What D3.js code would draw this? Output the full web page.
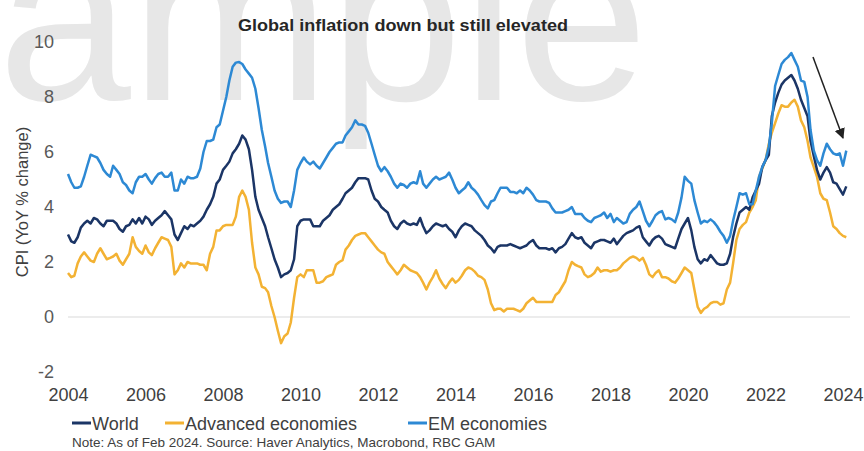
<!DOCTYPE html>
<html>
<head>
<meta charset="utf-8">
<script src="https://cdn.jsdelivr.net/npm/d3@7"></script>
<style>
  body { margin: 0; background: #fff; }
  text { font-family: "Liberation Sans", Arial, sans-serif; }
</style>
</head>
<body>
<svg id="chart" width="864" height="451"></svg>
<script>
// Monthly CPI YoY %, Jan 2004 .. Feb 2024
const startYear = 2004;

const world = [
  3.0, 2.75, 2.7, 2.9, 3.25, 3.4, 3.5, 3.4, 3.6, 3.55, 3.4, 3.3,
  3.5, 3.5, 3.5, 3.4, 3.2, 3.1, 3.3, 3.35, 3.55, 3.4, 3.6, 3.4,
  3.65, 3.55, 3.35, 3.5, 3.6, 3.7, 3.85, 3.7, 3.55, 3.0, 2.8, 3.05,
  3.3, 3.2, 3.35, 3.3, 3.4, 3.5, 3.65, 3.9, 4.1, 4.37, 4.85, 5.0,
  5.35, 5.5, 5.65, 5.95, 6.1, 6.3, 6.6, 6.45, 6.1, 5.35, 4.37, 3.9,
  3.6, 3.3, 2.9, 2.5, 2.1, 1.8, 1.45, 1.55, 1.6, 1.7, 2.1, 3.3,
  3.5, 3.55, 3.55, 3.55, 3.3, 3.3, 3.3, 3.5, 3.6, 3.7, 3.9, 4.0,
  4.1, 4.3, 4.5, 4.6, 4.7, 4.9, 5.05, 5.05, 5.05, 5.0, 4.6, 4.3,
  4.2, 4.0, 3.9, 3.8, 3.5, 3.3, 3.2, 3.4, 3.5, 3.4, 3.35, 3.4,
  3.35, 3.6, 3.3, 3.05, 3.15, 3.3, 3.4, 3.35, 3.3, 3.35, 3.2, 3.1,
  2.9, 3.15, 3.3, 3.4, 3.35, 3.3, 3.15, 3.05, 2.95, 2.8, 2.6, 2.5,
  2.35, 2.55, 2.6, 2.6, 2.6, 2.65, 2.6, 2.55, 2.5, 2.55, 2.6, 2.72,
  2.8, 2.6, 2.5, 2.5, 2.5, 2.45, 2.5, 2.35, 2.5, 2.55, 2.65, 2.85,
  3.05, 2.9, 2.85, 2.9, 2.7, 2.6, 2.5, 2.7, 2.75, 2.8, 2.8, 2.75,
  2.7, 2.85, 2.65, 2.8, 2.95, 3.05, 3.1, 3.15, 3.25, 3.3, 2.9, 2.75,
  2.6, 2.8, 2.9, 2.95, 2.85, 2.65, 2.6, 2.55, 2.5, 2.85, 3.2, 3.4,
  3.6, 3.15, 2.55, 2.1, 1.95, 2.1, 2.05, 2.25, 2.1, 1.95, 1.9, 1.9,
  1.95, 2.3, 2.9, 3.4, 3.8, 3.9, 4.0, 3.9, 4.35, 4.6, 4.85, 5.45,
  5.7, 5.9, 7.3, 7.8, 8.15, 8.45, 8.6, 8.7, 8.8, 8.6, 8.3, 7.9,
  7.6, 7.3, 6.4, 5.85, 5.35, 5.0, 5.25, 5.45, 5.25, 4.9, 4.85, 4.65,
  4.45, 4.75
];

const advanced = [
  1.6, 1.45, 1.5, 1.95, 2.2, 2.35, 2.2, 2.05, 2.0, 2.3, 2.5, 2.3,
  2.1, 2.15, 2.2, 2.3, 2.05, 1.9, 2.1, 2.3, 2.9, 2.55, 2.4, 2.3,
  2.6, 2.35, 2.25, 2.5, 2.7, 2.9, 2.85, 2.8, 2.55, 1.55, 1.7, 1.95,
  1.8, 2.0, 1.95, 1.95, 1.95, 1.9, 1.9, 1.7, 2.3, 2.55, 3.15, 3.15,
  3.3, 3.35, 3.35, 3.35, 3.65, 4.37, 4.6, 4.37, 3.9, 2.7, 1.8, 1.55,
  1.1, 1.05, 0.9, 0.4, 0.0, -0.5, -0.95, -0.7, -0.6, -0.2, 0.7, 1.45,
  1.55, 1.45, 1.7, 1.7, 1.7, 1.25, 1.25, 1.3, 1.45, 1.5, 1.55, 1.9,
  2.0, 2.07, 2.45, 2.6, 2.8, 2.95, 3.0, 3.05, 3.05, 2.9, 2.75, 2.6,
  2.45, 2.35, 2.3, 2.0, 1.85, 1.7, 1.55, 1.7, 1.9, 1.8, 1.7, 1.65,
  1.6, 1.45, 1.25, 1.0, 1.25, 1.45, 1.7, 1.4, 1.2, 1.05, 1.25, 1.4,
  1.25, 1.35, 1.5, 1.7, 1.8, 1.75, 1.65, 1.5, 1.45, 1.35, 1.0, 0.5,
  0.25, 0.3, 0.3, 0.2, 0.3, 0.3, 0.3, 0.25, 0.2, 0.3, 0.5, 0.6,
  0.7, 0.55, 0.55, 0.55, 0.55, 0.55, 0.55, 0.8, 0.9, 1.1, 1.3, 1.7,
  2.0, 1.9, 1.85, 1.8, 1.55, 1.45, 1.5, 1.6, 1.8, 1.65, 1.7, 1.7,
  1.65, 1.7, 1.7, 1.8, 1.95, 2.05, 2.15, 2.2, 2.15, 2.05, 2.15, 1.9,
  1.55, 1.45, 1.6, 1.7, 1.45, 1.45, 1.4, 1.3, 1.25, 1.4, 1.6, 1.8,
  1.7, 1.6, 1.0, 0.37, 0.15, 0.3, 0.37, 0.5, 0.55, 0.55, 0.45, 0.5,
  1.0, 1.25, 1.95, 2.8, 3.2, 3.35, 3.45, 3.8, 4.0, 4.25, 5.1, 5.4,
  5.7, 6.3, 6.7, 7.05, 7.4, 7.7, 7.65, 7.65, 7.8, 7.9, 7.65, 7.15,
  6.9, 6.4, 5.8, 5.45, 5.1, 4.5, 4.3, 4.25, 3.8, 3.3, 3.2, 3.05,
  2.95, 2.9
];

const em = [
  5.2, 4.9, 4.7, 4.7, 4.75, 5.1, 5.5, 5.9, 5.85, 5.8, 5.6, 5.35,
  5.2, 5.1, 5.5, 5.35, 5.2, 4.9, 4.8, 4.6, 4.5, 4.9, 5.1, 5.1,
  5.2, 5.0, 4.85, 5.05, 5.2, 5.25, 5.1, 5.1, 5.25, 4.6, 4.6, 5.0,
  4.85, 5.1, 5.05, 5.05, 5.1, 5.4, 6.0, 6.4, 6.4, 6.45, 6.9, 7.0,
  7.5, 8.0, 8.6, 9.1, 9.25, 9.27, 9.2, 9.0, 8.85, 8.7, 8.3, 7.6,
  6.8, 6.2, 5.6, 5.1, 4.6, 4.3, 4.15, 4.2, 4.2, 4.0, 4.6, 5.35,
  5.6, 5.8, 5.65, 5.55, 5.65, 5.5, 5.4, 5.6, 5.8, 6.0, 6.15, 6.3,
  6.35, 6.35, 6.6, 6.75, 6.9, 7.15, 7.0, 7.0, 6.95, 6.7, 6.3, 5.9,
  5.5, 5.3, 5.45, 5.3, 5.1, 4.85, 4.7, 4.85, 4.8, 4.7, 4.85, 4.9,
  4.85, 5.3, 4.85, 4.7, 4.85, 5.0, 5.1, 5.0, 5.05, 5.1, 5.25, 5.0,
  4.7, 4.5, 4.6, 4.7, 4.9, 4.7, 4.6, 4.45, 4.25, 4.07, 3.95, 4.2,
  4.25, 4.5, 4.7, 4.7, 4.7, 4.55, 4.55, 4.5, 4.6, 4.5, 4.7, 4.6,
  4.45, 4.25, 4.2, 4.2, 4.2, 4.15, 3.95, 3.8, 3.8, 3.8, 3.85, 3.9,
  4.0, 3.75, 3.75, 3.75, 3.6, 3.5, 3.45, 3.6, 3.65, 3.7, 3.8, 3.6,
  3.75, 3.45, 3.6, 3.5, 3.4, 3.45, 3.75, 3.9, 4.0, 4.2, 3.85, 3.5,
  3.3, 3.5, 3.7, 3.8, 3.85, 3.55, 3.6, 3.55, 3.45, 3.8, 4.35, 5.1,
  4.95, 4.85, 4.25, 3.8, 3.4, 3.5, 3.45, 3.55, 3.45, 3.3, 3.1, 2.95,
  2.7, 2.95, 3.5, 4.0, 4.5, 4.45, 4.5, 4.1, 4.1, 4.6, 5.1, 5.45,
  5.7, 6.2, 7.05, 8.4, 8.8, 9.2, 9.35, 9.45, 9.6, 9.35, 9.1, 8.6,
  8.55, 8.0, 6.8, 6.05, 5.7, 5.5, 5.95, 6.3, 6.1, 5.95, 5.9, 5.95,
  5.5, 6.05
];

const seriesNames = ["World", "Advanced economies", "EM economies"];
const seriesColors = ["#1b3566", "#f3b233", "#2d89d4"];
const yTicks = [-2, 0, 2, 4, 6, 8, 10];
const xTickYears = [2004, 2006, 2008, 2010, 2012, 2014, 2016, 2018, 2020, 2022, 2024];

const svg = d3.select("#chart");

// watermark, partly off the canvas
svg.append("text")
  .attr("x", -2)
  .attr("y", 100)
  .attr("font-size", 236)
  .attr("textLength", 650)
  .attr("lengthAdjust", "spacingAndGlyphs")
  .attr("fill", "#e7e7e7")
  .text("ample");

const x = d3.scaleTime()
  .domain([new Date(2004, 0, 1), new Date(2024, 0, 1)])
  .range([68, 843]);
const y = d3.scaleLinear().domain([-2, 10]).range([372, 42]);

// title
svg.append("text")
  .attr("x", 403)
  .attr("y", 31)
  .attr("text-anchor", "middle")
  .attr("font-size", 17)
  .attr("font-weight", "bold")
  .attr("textLength", 330)
  .attr("lengthAdjust", "spacingAndGlyphs")
  .attr("fill", "#262626")
  .text("Global inflation down but still elevated");

// y axis labels
const yAxis = svg.append("g")
  .attr("transform", "translate(68,0)")
  .call(d3.axisLeft(y).tickValues(yTicks).tickSize(0).tickPadding(14).tickFormat(d => String(d)));
yAxis.select(".domain").remove();
yAxis.selectAll("text")
  .attr("font-size", 18)
  .attr("font-family", "Liberation Sans, Arial, sans-serif")
  .attr("fill", "#595959");

// x axis labels
const xAxis = svg.append("g")
  .attr("transform", "translate(0,372)")
  .call(d3.axisBottom(x)
    .tickValues(xTickYears.map(yr => new Date(yr, 0, 1)))
    .tickSize(0).tickPadding(16).tickFormat(d3.timeFormat("%Y")));
xAxis.select(".domain").remove();
xAxis.selectAll("text")
  .attr("font-size", 18)
  .attr("font-family", "Liberation Sans, Arial, sans-serif")
  .attr("fill", "#404040");

// y axis title
svg.append("text")
  .attr("transform", "translate(28,202) rotate(-90)")
  .attr("text-anchor", "middle")
  .attr("font-size", 16.5)
  .attr("fill", "#404040")
  .text("CPI (YoY % change)");

// zero line
svg.append("line")
  .attr("x1", 68).attr("x2", 850)
  .attr("y1", y(0)).attr("y2", y(0))
  .attr("stroke", "#d9d9d9")
  .attr("stroke-width", 1);

// lines
const line = d3.line()
  .x((d, i) => x(new Date(startYear, i, 1)))
  .y(d => y(d));

[advanced, world, em].forEach((s, k) => {
  const idx = [1, 0, 2][k];
  svg.append("path")
    .datum(s)
    .attr("d", line)
    .attr("fill", "none")
    .attr("stroke", seriesColors[idx])
    .attr("stroke-width", 2.5)
    .attr("stroke-linejoin", "round");
});

// arrow
svg.append("defs").append("marker")
  .attr("id", "arrowhead")
  .attr("viewBox", "0 0 10 10")
  .attr("refX", 9).attr("refY", 5)
  .attr("markerWidth", 7).attr("markerHeight", 7)
  .attr("orient", "auto")
  .append("path")
  .attr("d", "M0,0 L10,5 L0,10 z")
  .attr("fill", "#222");

svg.append("line")
  .attr("x1", 813).attr("y1", 57)
  .attr("x2", 843).attr("y2", 138)
  .attr("stroke", "#222")
  .attr("stroke-width", 1.5)
  .attr("marker-end", "url(#arrowhead)");

// legend
const legendX = [72, 165, 408];
const legend = svg.append("g").attr("transform", "translate(0,423)");
seriesNames.forEach((name, i) => {
  legend.append("line")
    .attr("x1", legendX[i]).attr("x2", legendX[i] + 19)
    .attr("y1", 0).attr("y2", 0)
    .attr("stroke", seriesColors[i])
    .attr("stroke-width", 3);
  legend.append("text")
    .attr("x", legendX[i] + 20)
    .attr("y", 6.5)
    .attr("font-size", 18)
    .attr("fill", "#404040")
    .text(name);
});

// note
svg.append("text")
  .attr("x", 72)
  .attr("y", 447)
  .attr("font-size", 13.5)
  .attr("fill", "#404040")
  .text("Note: As of Feb 2024. Source: Haver Analytics, Macrobond, RBC GAM");
</script>
</body>
</html>
